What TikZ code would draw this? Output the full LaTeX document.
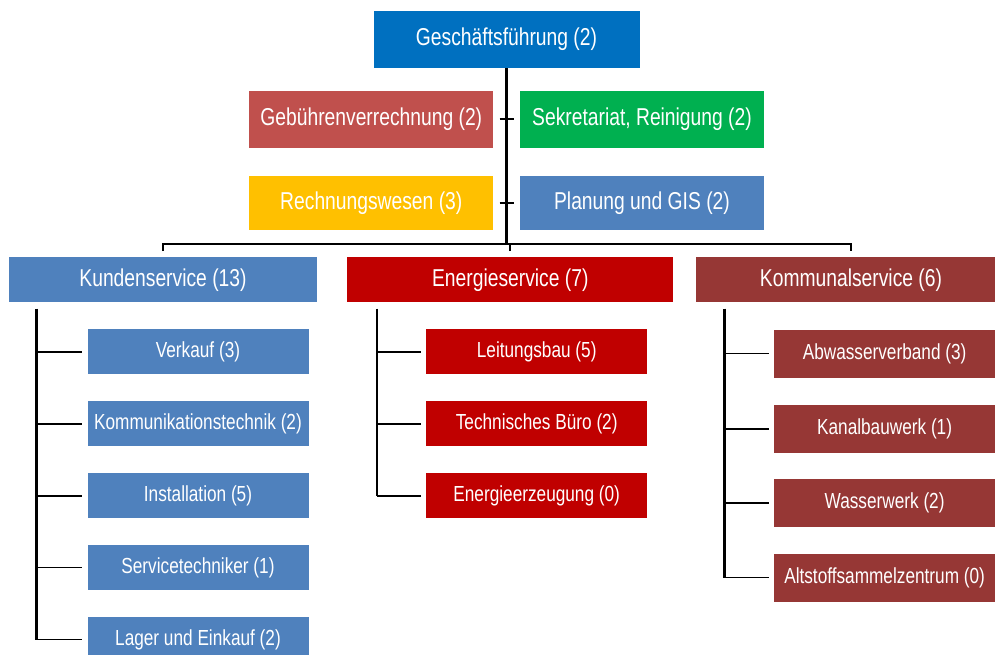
\documentclass[tikz,border=0pt]{standalone}
\usepackage{fontspec}
\setmainfont{Liberation Sans}[FakeStretch=0.79]
\definecolor{gfblue}{RGB}{0,112,192}
\definecolor{gbred}{RGB}{192,80,77}
\definecolor{srgreen}{RGB}{0,176,80}
\definecolor{rwyellow}{RGB}{255,192,0}
\definecolor{ksblue}{RGB}{79,129,189}
\definecolor{esred}{RGB}{192,0,0}
\definecolor{komred}{RGB}{150,55,53}

\begin{document}
\begin{tikzpicture}[x=1pt, y=-1pt,
    unit/.style={rectangle, fill=#1, text=white, inner sep=0pt, font=\fontsize{24.4}{27}\selectfont},
    sub/.style={rectangle, fill=#1, text=white, inner sep=0pt, minimum width=221pt, minimum height=45pt, font=\fontsize{21.8}{24}\selectfont},
    trunk/.style={line width=2.7pt},
    bus/.style={line width=2.2pt},
    tick/.style={line width=2pt},
    twig/.style={line width=1.8pt}]
    \useasboundingbox (0,0) rectangle (995,655);
    \node[unit=gfblue, minimum width=266pt, minimum height=57pt] (gf) at (506.5,39.5) {Geschäftsführung (2)};
    \node[unit=gbred, minimum width=244pt, minimum height=57pt] (gb) at (371.3,119.5) {Gebührenverrechnung (2)};
    \node[unit=srgreen, minimum width=244pt, minimum height=57pt] (sr) at (642,119.5) {Sekretariat, Reinigung (2)};
    \node[unit=rwyellow, minimum width=244pt, minimum height=54pt] (rw) at (371.3,203) {Rechnungswesen (3)};
    \node[unit=ksblue, minimum width=244pt, minimum height=54pt] (pg) at (642,203) {Planung und GIS (2)};
    \node[unit=ksblue, minimum width=308pt, minimum height=45pt] (ks) at (163,279.8) {Kundenservice (13)};
    \node[unit=esred, minimum width=326pt, minimum height=45pt] (es) at (510.3,279.8) {Energieservice (7)};
    \node[unit=komred, minimum width=310pt, minimum height=45pt] (kom) at (851,279.8) {Kommunalservice (6)};
    % Kundenservice
    \node[sub=ksblue] (ks1) at (198,351.8) {Verkauf (3)};
    \node[sub=ksblue] (ks2) at (198,423.8) {Kommunikationstechnik (2)};
    \node[sub=ksblue] (ks3) at (198,495.8) {Installation (5)};
    \node[sub=ksblue] (ks4) at (198,567.5) {Servicetechniker (1)};
    \node[sub=ksblue] (ks5) at (198,639.5) {Lager und Einkauf (2)};
    % Energieservice
    \node[sub=esred] (es1) at (536.7,351.8) {Leitungsbau (5)};
    \node[sub=esred] (es2) at (536.7,423.8) {Technisches Büro (2)};
    \node[sub=esred] (es3) at (536.7,495.8) {Energieerzeugung (0)};
    % Kommunalservice
    \node[sub=komred, minimum height=48pt] (kom1) at (884.6,353.5) {Abwasserverband (3)};
    \node[sub=komred, minimum height=48pt] (kom2) at (884.6,429.2) {Kanalbauwerk (1)};
    \node[sub=komred, minimum height=48pt] (kom3) at (884.6,503.3) {Wasserwerk (2)};
    \node[sub=komred, minimum height=48pt] (kom4) at (884.6,577.5) {Altstoffsammelzentrum (0)};

    % lines
    \coordinate (bar) at (0,244.3);
    \draw[trunk] (gf.south) -- (gf.south |- bar);
    \draw[tick] ([xshift=6pt]gb.east) -- ([xshift=-6pt]sr.west);
    \draw[tick] ([xshift=6pt]rw.east) -- ([xshift=-6pt]pg.west);
    \draw[bus] ([yshift=6pt]ks.north) -- (ks.north |- bar) -- (kom.north |- bar) -- ([yshift=6pt]kom.north);
    \draw[bus] ([yshift=6pt]es.north) -- (es.north |- bar);

    \coordinate (ksroot) at ([xshift=28pt,yshift=-6pt]ks.south west);
    \draw[trunk] (ksroot) -- (ksroot |- ks5.west);
    \draw[twig] (ksroot |- ks1.west) -- ([xshift=-5pt]ks1.west);
    \draw[twig] (ksroot |- ks2.west) -- ([xshift=-5pt]ks2.west);
    \draw[twig] (ksroot |- ks3.west) -- ([xshift=-5pt]ks3.west);
    \draw[twig] (ksroot |- ks4.west) -- ([xshift=-5pt]ks4.west);
    \draw[twig] (ksroot |- ks5.west) -- ([xshift=-5pt]ks5.west);

    \coordinate (esroot) at ([xshift=30pt,yshift=-6pt]es.south west);
    \draw[trunk] (esroot) -- (esroot |- es3.west);
    \draw[twig] (esroot |- es1.west) -- ([xshift=-5pt]es1.west);
    \draw[twig] (esroot |- es2.west) -- ([xshift=-5pt]es2.west);
    \draw[twig] (esroot |- es3.west) -- ([xshift=-5pt]es3.west);

    \coordinate (komroot) at ([xshift=29pt,yshift=-6pt]kom.south west);
    \draw[trunk] (komroot) -- (komroot |- kom4.west);
    \draw[twig] (komroot |- kom1.west) -- ([xshift=-5pt]kom1.west);
    \draw[twig] (komroot |- kom2.west) -- ([xshift=-5pt]kom2.west);
    \draw[twig] (komroot |- kom3.west) -- ([xshift=-5pt]kom3.west);
    \draw[twig] (komroot |- kom4.west) -- ([xshift=-5pt]kom4.west);
\end{tikzpicture}
\end{document}
